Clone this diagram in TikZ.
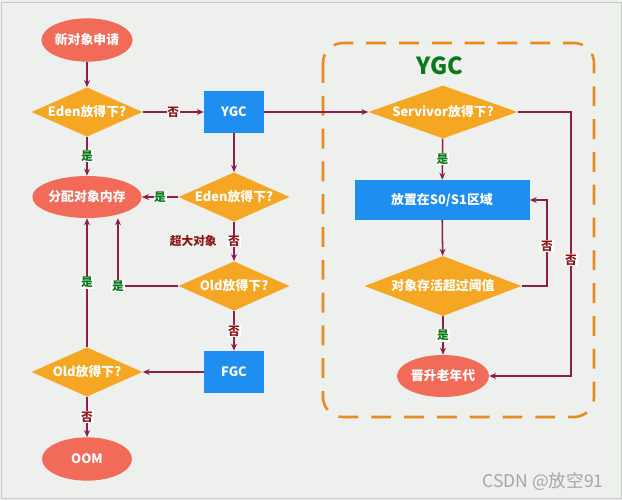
\documentclass[tikz,border=0pt]{standalone}
\usepackage{fontspec}
\setmainfont{Noto Sans CJK SC}
\usetikzlibrary{shapes.geometric,arrows.meta}

\definecolor{bgGray}{HTML}{EEF0EE}
\definecolor{startRed}{HTML}{F26A58}
\definecolor{condOrange}{HTML}{F5A623}
\definecolor{actBlue}{HTML}{1F8EF1}
\definecolor{lineRed}{HTML}{8E1E4E}
\definecolor{noRed}{HTML}{8A1414}
\definecolor{yesGreen}{HTML}{0A7A1A}
\definecolor{frameOrange}{HTML}{E88B1E}

\tikzset{
  txt/.style={text=white,font=\bfseries\fontsize{11}{13}\selectfont,inner sep=0pt},
  start/.style={ellipse,fill=startRed,txt,minimum width=2.7cm,minimum height=1.3cm},
  cond/.style={diamond,fill=condOrange,txt,shape aspect=2.25,minimum width=3.33cm,minimum height=1.48cm},
  act/.style={rectangle,fill=actBlue,txt,minimum width=1.8cm,minimum height=1.26cm},
  line/.style={draw=lineRed,line width=1.3pt,-{Stealth[length=6pt,width=5pt]}},
  yes/.style={fill=white,text=yesGreen,font=\bfseries\fontsize{10}{12}\selectfont,inner sep=0.6pt},
  no/.style={fill=white,text=noRed,font=\bfseries\fontsize{10}{12}\selectfont,inner sep=0.6pt}
}

\begin{document}
\begin{tikzpicture}[x=0.03cm,y=-0.03cm]
  \useasboundingbox (0,0) rectangle (622,500);
  \fill[bgGray] (0,0) rectangle (622,500);
  \draw[gray!45,line width=0.8pt] (1,2) rectangle (621,498);

  % left part
  \node[start] (new) at (87,40) {新对象申请};
  \node[cond] (eden1) at (87,112) {Eden放得下?};
  \node[act] (ygc) at (234,112) {YGC};
  \node[start,minimum height=1.26cm] (alloc) at (87,197) {分配对象内存};
  \node[cond] (eden2) at (234,197) {Eden放得下?};
  \node[cond] (old1) at (234,286) {Old放得下?};
  \node[act] (fgc) at (234,372) {FGC};
  \node[cond] (old2) at (87,372) {Old放得下?};
  \node[start] (oom) at (87,459) {OOM};

  % YGC frame
  \draw[frameOrange,line width=2.2pt,dash pattern=on 17pt off 11pt,rounded corners=0.6cm]
    (323,43) rectangle (594,417);
  \node[text=yesGreen,font=\bfseries\fontsize{20}{24}\selectfont] (title) at (440,66) {YGC};
  \node[cond,shape aspect=2.8,minimum width=4.47cm,minimum height=1.59cm] (serv) at (443,112) {Servivor放得下?};
  \node[act,minimum width=5.25cm,minimum height=1.2cm] (put) at (442,200) {放置在S0/S1区域};
  \node[cond,shape aspect=2.6,minimum width=4.71cm,minimum height=1.8cm] (ths) at (443,286) {对象存活超过阈值};
  \node[start,minimum width=2.76cm,minimum height=1.26cm] (old) at (443,376) {晋升老年代};

  \coordinate (c1) at (118,286);
  \coordinate (c2) at (571,376);
  \coordinate (c3) at (547,200);

  \draw[line] (new) -- (eden1);
  \draw[line] (eden1) -- node[no] {否} (ygc);
  \draw[line] (eden1) -- node[yes] {是} (alloc);
  \draw[line] (ygc) -- (serv);
  \draw[line] (ygc) -- (eden2);
  \draw[line] (eden2) -- node[yes] {是} (alloc);
  \draw[line] (eden2) -- node[no] (big) {否} (old1);
  \node[text=noRed,font=\bfseries\fontsize{10}{12}\selectfont,left=5pt] at (big.west) {超大对象};
  \draw[line] (old1.west) -- node[yes,pos=1] {是} (c1) -- (c1 |- alloc.south);
  \draw[line] (old1) -- node[no] {否} (fgc);
  \draw[line] (fgc) -- (old2);
  \draw[line] (old2) -- node[yes] {是} (alloc);
  \draw[line] (old2) -- node[no] {否} (oom);

  \draw[line] (serv) -- node[yes] {是} (put);
  \draw[line] (put) -- (ths);
  \draw[line] (ths) -- node[yes] {是} (old);
  \draw[line] (ths.east) -| node[no,pos=0.73] {否} (c3) -- (put.east);
  \draw[line] (serv.east) -| node[no,pos=0.78] {否} (c2) -- (old.east);

  \node[text=gray!70,font=\fontsize{15}{18}\selectfont] (mark) at (543,482) {CSDN @放空91};
\end{tikzpicture}
\end{document}
